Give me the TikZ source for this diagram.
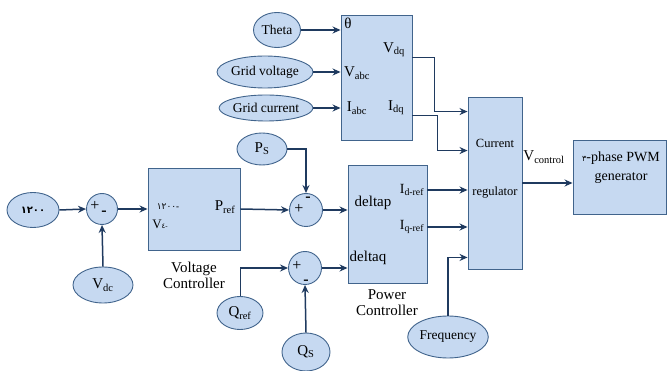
\documentclass[tikz,border=0pt]{standalone}
\usepackage{fontspec}
\setmainfont{Liberation Serif}
\newfontfamily\arabicfont[Script=Arabic]{DejaVu Sans}
\usetikzlibrary{arrows.meta,shapes.geometric}
\definecolor{riemp}{HTML}{C6D9F1}
\definecolor{bordo}{HTML}{41648C}
\definecolor{linea}{HTML}{1F3A5F}
\begin{document}
\begin{tikzpicture}[x=1pt,y=-1pt,>={Stealth[length=8pt,width=7pt]},
    blocco/.style={draw=bordo,fill=riemp,line width=0.9pt,inner sep=0pt},
    ovale/.style={ellipse,draw=bordo,fill=riemp,line width=0.9pt,inner sep=0pt,font=\fontsize{13.5}{14}\selectfont},
    somma/.style={circle,draw=bordo,fill=riemp,line width=0.9pt,inner sep=0pt,minimum size=33pt},
    freccia/.style={->,draw=linea,line width=1.5pt},
    testo/.style={inner sep=0pt,font=\fontsize{15}{16}\selectfont},
    segno/.style={inner sep=0pt,font=\fontsize{16}{16}\selectfont}]
        \useasboundingbox (0,0) rectangle (667,371);
        % blocchi
        \node[blocco,minimum width=71pt,minimum height=125pt] (abc) at (376.5,77.5) {};
        \node[blocco,minimum width=92pt,minimum height=82pt] (vc) at (194,209) {};
        \node[blocco,minimum width=79pt,minimum height=118pt] (pc) at (387.5,224) {};
        \node[blocco,minimum width=54pt,minimum height=172pt] (cr) at (495,183) {};
        \node[blocco,minimum width=93pt,minimum height=74pt] (pwm) at (619.5,177) {};
        % ingressi
        \node[ovale,minimum width=47pt,minimum height=35pt] (theta) at (277,30) {Theta};
        \node[ovale,minimum width=84pt,minimum height=32pt] (gridv) at (265,72) {Grid voltage};
        \node[ovale,minimum width=82pt,minimum height=26pt] (gridi) at (266,108) {Grid current};
        \node[ovale,minimum width=50pt,minimum height=32pt,font=\fontsize{15}{16}\selectfont] (ps) at (262,149) {P\textsubscript{S}};
        \node[ovale,minimum width=52pt,minimum height=35pt,font=\arabicfont\bfseries\fontsize{10}{10}\selectfont] (rif) at (33,210) {١٢٠٠};
        \node[ovale,minimum width=60pt,minimum height=36pt,font=\fontsize{15}{16}\selectfont] (vdc) at (103,285) {V\textsubscript{dc}};
        \node[ovale,minimum width=46pt,minimum height=33pt,font=\fontsize{15}{16}\selectfont] (qref) at (240,313) {Q\textsubscript{ref}};
        \node[ovale,minimum width=48pt,minimum height=38pt,font=\fontsize{15}{16}\selectfont] (qs) at (306,352) {Q\textsubscript{S}};
        \node[ovale,minimum width=67pt,minimum height=42pt] (freq) at (448,337) {Frequency};
        % sommatori
        \node[somma,minimum size=31pt] (s1) at (102,209) {};
        \node[somma] (s2) at (306,210) {};
        \node[somma] (s3) at (305,268) {};
        \node[segno] (s1p) at (95,206) {+};
        \node[segno] (s1m) at (104,213) {\textbf{-}};
        \node[segno] (s2p) at (299,209) {+};
        \node[segno] (s2m) at (308,199) {\textbf{-}};
        \node[segno] (s3p) at (297,266) {+};
        \node[segno] (s3m) at (306,282) {\textbf{-}};
        % etichette
        \node[testo] (th) at (348,23) {θ};
        \node[testo] (vdq) at (394,50) {V\textsubscript{dq}};
        \node[testo] (vabc) at (357,73) {V\textsubscript{abc}};
        \node[testo] (iabc) at (357,108) {I\textsubscript{abc}};
        \node[testo] (idq) at (396,108) {I\textsubscript{dq}};
        \node[inner sep=0pt,font=\fontsize{9}{9}\selectfont] (vcin) at (168,207) {{\arabicfont ١٢٠٠}\textbf{-}};
        \node[testo,font=\fontsize{13}{14}\selectfont] (vcv) at (160,224) {V{\fontsize{7}{7}\selectfont{\arabicfont ٤}-}};
        \node[testo] (pref) at (225,207) {P\textsubscript{ref}};
        \node[testo,align=center] (vcl) at (194,275) {Voltage\\Controller};
        \node[testo] (dp) at (373,203) {deltap};
        \node[testo] (dq) at (368,258) {deltaq};
        \node[testo,font=\fontsize{14}{15}\selectfont] (idref) at (412,190) {I\textsubscript{d-ref}};
        \node[testo,font=\fontsize{14}{15}\selectfont] (iqref) at (412,227) {I\textsubscript{q-ref}};
        \node[testo,align=center] (pcl) at (387,303) {Power\\Controller};
        \node[testo,font=\fontsize{12.5}{13}\selectfont] (crc) at (495,143) {Current};
        \node[testo,font=\fontsize{12.5}{13}\selectfont] (crr) at (495,193) {regulator};
        \node[testo] (vctl) at (544,157) {V\textsubscript{control}};
        \node[testo,align=center,font=\fontsize{14}{19}\selectfont] (pwml) at (621,168) {{\arabicfont\fontsize{8}{8}\selectfont ٣}-phase PWM\\generator};
        % collegamenti
        \draw[freccia] (theta.east) -- (abc.west |- theta.east);
        \draw[freccia] (gridv.east) -- (abc.west |- gridv.east);
        \draw[freccia] (gridi.east) -- (abc.west |- gridi.east);
        \draw[freccia] (abc.east |- vdq.south) -- ++(22,0) |- ([yshift=-15pt]cr.north west);
        \draw[freccia] (abc.east |- idq.south) -- ++(25,0) |- ([yshift=-54pt]cr.north west);
        \draw[freccia] (rif.east) -- (s1.west);
        \draw[freccia] (vdc.north) -- (s1.south);
        \draw[freccia] (s1.east) -- (vc.west |- s1.east);
        \draw[freccia] (vc.east) -- (s2.west);
        \draw[freccia] (ps.east) -| (s2.north);
        \draw[freccia] (s2.east) -- (pc.west |- s2.east);
        \coordinate (qin) at (240,268);
        \draw[draw=linea,line width=0.6pt] (qref.north) -- (qin);
        \draw[freccia] (qin) -- (s3.west);
        \draw[freccia] (qs.north) -- (s3.south);
        \draw[freccia] (s3.east) -- (pc.west |- s3.east);
        \draw[freccia] (pc.east |- idref) -- (cr.west |- idref);
        \draw[freccia] (pc.east |- iqref) -- (cr.west |- iqref);
        \draw[freccia] (freq.north) |- ([yshift=12pt]cr.south west);
        \draw[freccia] (cr.east) -- (pwm.west |- cr.east);
\end{tikzpicture}
\end{document}
